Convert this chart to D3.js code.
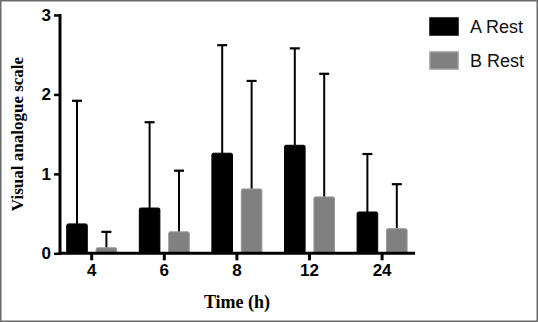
<!DOCTYPE html>
<html>
<head>
<meta charset="utf-8">
<script src="https://cdn.jsdelivr.net/npm/d3@7"></script>
<style>
  body { margin: 0; background: #fff; }
  svg { display: block; }
</style>
</head>
<body>
<div id="chart"></div>
<script>
// data
var times = ["4", "6", "8", "12", "24"];
var seriesNames = ["A Rest", "B Rest"];
var restA = [0.37, 0.57, 1.26, 1.36, 0.52];
var restB = [0.07, 0.27, 0.81, 0.71, 0.31];
var errA = [1.92, 1.65, 2.62, 2.58, 1.25];   // upper end of error bar
var errB = [0.27, 1.04, 2.17, 2.26, 0.87];
var yTicks = [0, 1, 2, 3];

var svgWidth = 538, svgHeight = 322;

var svg = d3.select("#chart")
  .append("svg")
  .attr("width", svgWidth)
  .attr("height", svgHeight);

// frame around the figure
svg.append("rect")
  .attr("x", 0.75).attr("y", 0.75)
  .attr("width", svgWidth - 1.5).attr("height", svgHeight - 1.5)
  .attr("fill", "none")
  .attr("stroke", "#6b6b6b")
  .attr("stroke-width", 1.5);

var x0 = d3.scaleBand().domain(times).range([55.4, 418.4]);
var x1 = d3.scaleBand().domain(seriesNames).range([-25, 25]).paddingInner(0.3);
var y = d3.scaleLinear().domain([0, 3]).range([253.3, 15]);

var color = { "A Rest": "#000", "B Rest": "#808080" };

var rows = times.map(function(t, i) {
  return [
    { t: t, s: "A Rest", v: restA[i], e: errA[i] },
    { t: t, s: "B Rest", v: restB[i], e: errB[i] }
  ];
});

var groups = svg.selectAll("g.grp")
  .data(rows)
  .enter()
  .append("g")
  .attr("class", "grp")
  .attr("transform", function(d) { return "translate(" + (x0(d[0].t) + x0.bandwidth() / 2) + ",0)"; });

var cells = groups.selectAll("g.cell")
  .data(function(d) { return d; })
  .enter()
  .append("g")
  .attr("class", "cell");

// error bars (upper only)
cells.append("line")
  .attr("x1", function(d) { return x1(d.s) + x1.bandwidth() / 2; })
  .attr("x2", function(d) { return x1(d.s) + x1.bandwidth() / 2; })
  .attr("y1", function(d) { return y(d.v); })
  .attr("y2", function(d) { return y(d.e); })
  .attr("stroke", "#000")
  .attr("stroke-width", 2);

cells.append("line")
  .attr("x1", function(d) { return x1(d.s) + x1.bandwidth() / 2 - 5; })
  .attr("x2", function(d) { return x1(d.s) + x1.bandwidth() / 2 + 5; })
  .attr("y1", function(d) { return y(d.e); })
  .attr("y2", function(d) { return y(d.e); })
  .attr("stroke", "#000")
  .attr("stroke-width", 2.2);

cells.append("rect")
  .attr("x", function(d) { return x1(d.s); })
  .attr("width", x1.bandwidth())
  .attr("y", function(d) { return y(d.v); })
  .attr("height", function(d) { return y(0) - y(d.v); })
  .attr("rx", 1.5)
  .attr("fill", function(d) { return color[d.s]; })
  .attr("stroke", function(d) { return d.s == "B Rest" ? "#9a9a9a" : "#000"; })
  .attr("stroke-width", 1);

// axes
var yAxis = d3.axisLeft(y).tickValues(yTicks).tickFormat(d3.format("d")).tickSize(6).tickSizeOuter(0);
var gy = svg.append("g")
  .attr("transform", "translate(60,0)")
  .call(yAxis);
gy.select(".domain").attr("stroke-width", 3).attr("d", "M0," + (y(0) + 1.5) + "V" + (y(3) - 1));
gy.selectAll(".tick line").attr("stroke-width", 2.5);
gy.selectAll(".tick text")
  .attr("x", -9)
  .attr("font-family", "Liberation Sans, Arial, sans-serif")
  .attr("font-weight", "bold")
  .attr("font-size", 17)
  .attr("fill", "#000");

var xAxis = d3.axisBottom(x0).tickSize(7).tickSizeOuter(0);
var gx = svg.append("g")
  .attr("transform", "translate(0," + y(0) + ")")
  .call(xAxis);
gx.select(".domain").attr("stroke-width", 3).attr("d", "M58.5,0H415");
gx.selectAll(".tick line").attr("stroke-width", 3);
gx.selectAll(".tick text")
  .attr("y", 11)
  .attr("font-family", "Liberation Sans, Arial, sans-serif")
  .attr("font-weight", "bold")
  .attr("font-size", 17)
  .attr("fill", "#000");

// axis titles
svg.append("text")
  .attr("transform", "translate(23,134) rotate(-90)")
  .attr("text-anchor", "middle")
  .attr("font-family", "Liberation Serif, Times New Roman, serif")
  .attr("font-weight", "bold")
  .attr("font-size", 17)
  .text("Visual analogue scale");

svg.append("text")
  .attr("x", 237)
  .attr("y", 308)
  .attr("text-anchor", "middle")
  .attr("font-family", "Liberation Serif, Times New Roman, serif")
  .attr("font-weight", "bold")
  .attr("font-size", 18)
  .text("Time (h)");

// legend
var legend = svg.selectAll("g.leg")
  .data(seriesNames)
  .enter()
  .append("g")
  .attr("class", "leg")
  .attr("transform", function(d, i) { return "translate(430," + (18 + i * 34) + ")"; });

legend.append("rect")
  .attr("width", 28)
  .attr("height", 17)
  .attr("fill", function(d) { return color[d]; })
  .attr("stroke", function(d) { return d == "B Rest" ? "#9a9a9a" : "#000"; })
  .attr("stroke-width", 1.5);

legend.append("text")
  .attr("x", 40)
  .attr("y", 15)
  .attr("font-family", "Liberation Sans, Arial, sans-serif")
  .attr("font-size", 18)
  .attr("fill", "#111")
  .text(function(d) { return d; });
</script>
</body>
</html>
